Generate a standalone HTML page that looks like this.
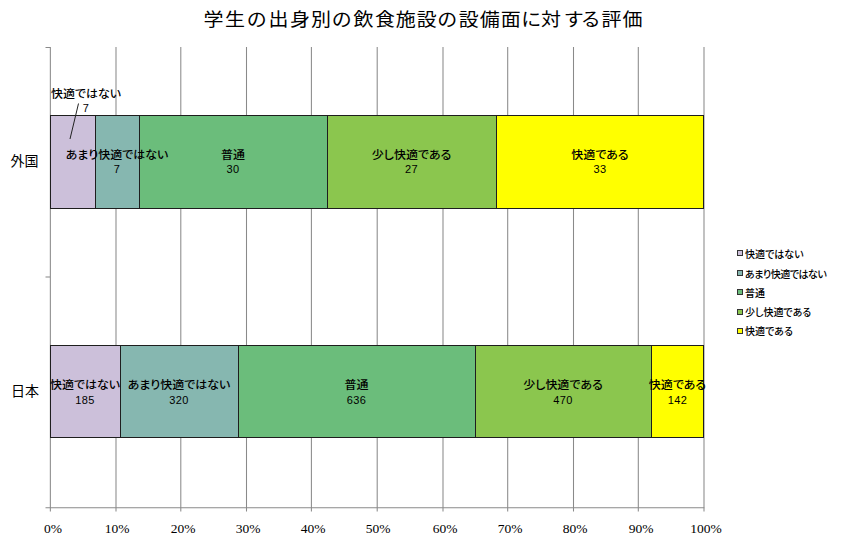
<!DOCTYPE html>
<html lang="ja">
<head>
<meta charset="utf-8">
<style>
html,body{margin:0;padding:0;background:#fff;}
body{width:841px;height:549px;overflow:hidden;position:relative;}
svg{position:absolute;left:0;top:0;}
text{font-family:"Liberation Sans","Noto Sans CJK JP",sans-serif;font-feature-settings:"palt";fill:#000;}
.t{font-size:20px;font-feature-settings:normal;}
.cat{font-size:14px;}
.lbl{font-size:12px;font-weight:500;}
.num{font-size:11px;letter-spacing:.4px;}
.ax{font-size:13.5px;font-family:"Liberation Serif","Noto Serif CJK SC",serif;}
.lg{font-size:10px;font-weight:500;}
</style>
</head>
<body>
<svg width="841" height="549" viewBox="0 0 841 549" shape-rendering="crispEdges">
  <!-- title -->
  <text class="t" transform="matrix(1 0 0 0.92 0 1.16)" x="213.5 235 256.7 278.5 299.9 321.1 341.7 363.5 384.9 405.7 426.8 447.3 468.7 489.8 510.7 531.2 551 573.7 590.8 611.4 632.4" y="27" text-anchor="middle">学生の出身別の飲食施設の設備面に対する評価</text>

  <!-- gridlines -->
  <g stroke="#8a8a8a" stroke-width="1.05" shape-rendering="auto">
    <line x1="116.0" y1="47" x2="116.0" y2="511.5"/>
    <line x1="180.8" y1="47" x2="180.8" y2="511.5"/>
    <line x1="246.5" y1="47" x2="246.5" y2="511.5"/>
    <line x1="311.4" y1="47" x2="311.4" y2="511.5"/>
    <line x1="377.2" y1="47" x2="377.2" y2="511.5"/>
    <line x1="443.0" y1="47" x2="443.0" y2="511.5"/>
    <line x1="507.7" y1="47" x2="507.7" y2="511.5"/>
    <line x1="573.5" y1="47" x2="573.5" y2="511.5"/>
    <line x1="638.3" y1="47" x2="638.3" y2="511.5"/>
    <line x1="704.0" y1="47" x2="704.0" y2="511.5"/>
    <!-- axes -->
    <line x1="50.35" y1="47" x2="50.35" y2="511.5"/>
    <line x1="45.5" y1="507.8" x2="704.3" y2="507.8"/>
    <line x1="45.5" y1="47.5" x2="50" y2="47.5"/>
    <line x1="45.5" y1="277" x2="50" y2="277"/>
  </g>

  <!-- 外国 bar -->
  <g stroke="#1e1e1e" stroke-width="1">
    <rect x="50.5" y="115.5" width="45" height="93" fill="#CCC0DA"/>
    <rect x="95.5" y="115.5" width="44" height="93" fill="#86B7B0"/>
    <rect x="139.5" y="115.5" width="188" height="93" fill="#6BBD7B"/>
    <rect x="327.5" y="115.5" width="169" height="93" fill="#8BC64E"/>
    <rect x="496.5" y="115.5" width="207" height="93" fill="#FFFF00"/>
  </g>
  <!-- 日本 bar -->
  <g stroke="#1e1e1e" stroke-width="1">
    <rect x="50.5" y="345.5" width="70" height="92" fill="#CCC0DA"/>
    <rect x="120.5" y="345.5" width="118" height="92" fill="#86B7B0"/>
    <rect x="238.5" y="345.5" width="237" height="92" fill="#6BBD7B"/>
    <rect x="475.5" y="345.5" width="176" height="92" fill="#8BC64E"/>
    <rect x="651.5" y="345.5" width="52" height="92" fill="#FFFF00"/>
  </g>

  <!-- leader line -->
  <line x1="78.5" y1="103.5" x2="70" y2="139" stroke="#222" stroke-width="1" shape-rendering="auto"/>

  <!-- category labels -->
  <text class="cat" x="38.5" y="166" text-anchor="end">外国</text>
  <text class="cat" x="39" y="396" text-anchor="end">日本</text>

  <!-- data labels 外国 -->
  <g text-anchor="middle">
    <text class="lbl" transform="matrix(1 0 0 0.92 0 7.48)" x="86" y="98">快適ではない</text>
    <g class="lbl" transform="matrix(1 0 0 0.92 0 12.36)">
      <text x="117" y="159">あまり快適ではない</text>
      <text x="233" y="159">普通</text>
      <text x="411.5" y="159">少し快適である</text>
      <text x="600" y="159">快適である</text>
    </g>
    <text class="num" x="86" y="112">7</text>
    <text class="num" x="117" y="173">7</text>
    <text class="num" x="233" y="173">30</text>
    <text class="num" x="411.5" y="173">27</text>
    <text class="num" x="600" y="173">33</text>
  </g>
  <!-- data labels 日本 -->
  <g text-anchor="middle">
    <g class="lbl" transform="matrix(1 0 0 0.92 0 30.8)">
      <text x="85" y="389">快適ではない</text>
      <text x="179" y="389">あまり快適ではない</text>
      <text x="356.5" y="389">普通</text>
      <text x="563" y="389">少し快適である</text>
      <text x="677.5" y="389">快適である</text>
    </g>
    <text class="num" x="85" y="404">185</text>
    <text class="num" x="179" y="404">320</text>
    <text class="num" x="356.5" y="404">636</text>
    <text class="num" x="563" y="404">470</text>
    <text class="num" x="677.5" y="404">142</text>
  </g>

  <!-- x axis labels -->
  <g text-anchor="middle">
    <text class="ax" x="53" y="533">0%</text>
    <text class="ax" x="117" y="533">10%</text>
    <text class="ax" x="183" y="533">20%</text>
    <text class="ax" x="248" y="533">30%</text>
    <text class="ax" x="313" y="533">40%</text>
    <text class="ax" x="378" y="533">50%</text>
    <text class="ax" x="445" y="533">60%</text>
    <text class="ax" x="510" y="533">70%</text>
    <text class="ax" x="575" y="533">80%</text>
    <text class="ax" x="641" y="533">90%</text>
    <text class="ax" x="706" y="533">100%</text>
  </g>

  <!-- legend -->
  <g stroke="#333" stroke-width="1">
    <rect x="737.5" y="250.5" width="5" height="5" fill="#CCC0DA"/>
    <rect x="737.5" y="270.5" width="5" height="5" fill="#86B7B0"/>
    <rect x="737.5" y="289.5" width="5" height="5" fill="#6BBD7B"/>
    <rect x="737.5" y="309.5" width="5" height="5" fill="#8BC64E"/>
    <rect x="737.5" y="328.5" width="5" height="5" fill="#FFFF00"/>
  </g>
  <text class="lg" x="745" y="258">快適ではない</text>
  <text class="lg" x="745" y="278" letter-spacing="-0.5">あまり快適ではない</text>
  <text class="lg" x="745" y="297">普通</text>
  <text class="lg" x="745" y="316">少し快適である</text>
  <text class="lg" x="745" y="335">快適である</text>
</svg>
</body>
</html>
